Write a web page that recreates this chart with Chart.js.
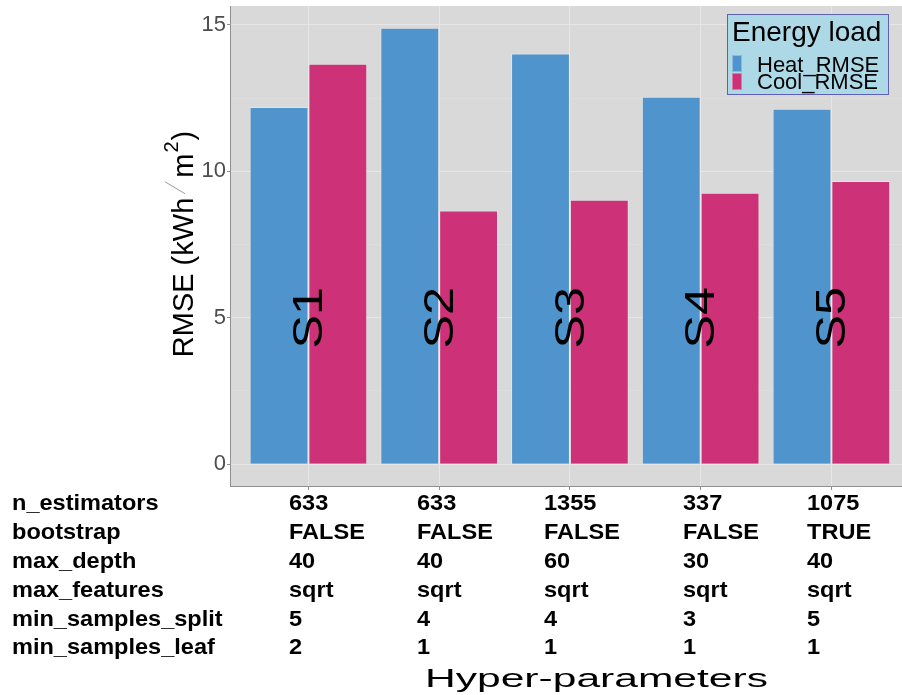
<!DOCTYPE html>
<html>
<head>
<meta charset="utf-8">
<script src="https://cdn.jsdelivr.net/npm/chart.js@4.4.0/dist/chart.umd.min.js"></script>
<style>
  html, body { margin: 0; padding: 0; background: #ffffff; }
  #wrap { width: 902px; height: 695px; position: relative; }
</style>
</head>
<body>
<div id="wrap"><canvas id="chart" width="902" height="695"></canvas></div>
<script>
// ---- data ----
const scenarios = ['S1', 'S2', 'S3', 'S4', 'S5'];
const heatRMSE = [12.20, 14.90, 14.02, 12.55, 12.14];
const coolRMSE = [13.67, 8.66, 9.03, 9.27, 9.67];
const seriesNames = ['Heat_RMSE', 'Cool_RMSE'];
const yTicks = [0, 5, 10, 15];
const yMinorTicks = [2.5, 7.5, 12.5];

// hyper-parameter table shown under the x axis
const paramNames = ['n_estimators', 'bootstrap', 'max_depth', 'max_features', 'min_samples_split', 'min_samples_leaf'];
const nEstimators = ['633', '633', '1355', '337', '1075'];
const bootstrap = ['FALSE', 'FALSE', 'FALSE', 'FALSE', 'TRUE'];
const maxDepth = ['40', '40', '60', '30', '40'];
const maxFeatures = ['sqrt', 'sqrt', 'sqrt', 'sqrt', 'sqrt'];
const minSamplesSplit = ['5', '4', '4', '3', '5'];
const minSamplesLeaf = ['2', '1', '1', '1', '1'];

// ---- styling ----
const HEAT = '#4F94CD';
const COOL = '#CD3278';
const PANEL = '#D9D9D9';
const GRID_MAJOR = '#E6E6E6';
const GRID_MINOR = '#DDDDDD';
const AXIS_GREY = '#8F8F8F';
const FONT = '"Liberation Sans", Arial, Helvetica, sans-serif';

const tableRows = [nEstimators, bootstrap, maxDepth, maxFeatures, minSamplesSplit, minSamplesLeaf];
const tableRowY = [510, 539, 568, 597, 626, 654];
const tableColX = [289, 417, 544, 683, 807];

function stretchedText(ctx, text, x, y, font, sx, align) {
  ctx.save();
  ctx.font = font;
  ctx.translate(x, y);
  ctx.scale(sx, 1);
  ctx.textAlign = align || 'left';
  ctx.fillText(text, 0, 0);
  ctx.restore();
}

const panelPlugin = {
  id: 'panel',
  beforeDraw(chart) {
    const { ctx, chartArea: a } = chart;
    ctx.save();
    ctx.fillStyle = PANEL;
    ctx.fillRect(a.left, a.top, a.right - a.left, a.bottom - a.top);
    ctx.restore();
  },
  afterDatasetsDraw(chart) {
    // scenario tags written vertically across each pair of bars
    const { ctx } = chart;
    const xs = chart.scales.x, ys = chart.scales.y;
    ctx.save();
    ctx.fillStyle = '#000000';
    scenarios.forEach((s, i) => {
      const cx = xs.getPixelForValue(i + 1) + 2;
      const cy = ys.getPixelForValue(5);
      ctx.save();
      ctx.translate(cx, cy);
      ctx.rotate(-Math.PI / 2);
      ctx.scale(1.2, 1);
      ctx.font = '42px ' + FONT;
      ctx.textAlign = 'center';
      ctx.textBaseline = 'middle';
      ctx.fillText(s, 0, 0);
      ctx.restore();
    });
    ctx.restore();
  },
  afterDraw(chart) {
    const { ctx } = chart;
    ctx.save();

    // legend box
    const lx = 727, ly = 14, lw = 161, lh = 80;
    ctx.fillStyle = '#ADD8E6';
    ctx.fillRect(lx, ly, lw, lh);
    ctx.strokeStyle = '#5F5FB4';
    ctx.lineWidth = 1;
    ctx.strokeRect(lx + 0.5, ly + 0.5, lw, lh);
    ctx.fillStyle = '#000000';
    ctx.textBaseline = 'alphabetic';
    ctx.font = '28px ' + FONT;
    ctx.textAlign = 'left';
    ctx.fillText('Energy load', 732, 41);
    const keyColors = [HEAT, COOL];
    const keyTop = [55, 73];
    const labelY = [72, 89];
    seriesNames.forEach((n, i) => {
      ctx.fillStyle = keyColors[i];
      ctx.fillRect(732, keyTop[i], 10, 17);
      ctx.strokeStyle = 'rgba(255,255,255,0.35)';
      ctx.strokeRect(732.5, keyTop[i] + 0.5, 9, 16);
      ctx.fillStyle = '#000000';
      ctx.font = '22px ' + FONT;
      ctx.fillText(n, 757, labelY[i]);
    });

    // hyper-parameter table
    ctx.fillStyle = '#000000';
    const bold = 'bold 22px ' + FONT;
    paramNames.forEach((p, r) => {
      stretchedText(ctx, p, 12, tableRowY[r], bold, 1.07);
      tableRows[r].forEach((v, c) => {
        stretchedText(ctx, v, tableColX[c], tableRowY[r], bold, 1.07);
      });
    });

    // x axis title
    const xtFont = '25px ' + FONT;
    ctx.font = xtFont;
    const tw = ctx.measureText('Hyper-parameters').width;
    stretchedText(ctx, 'Hyper-parameters', 596.5, 687, xtFont, 343 / tw, 'center');

    // y axis title: RMSE (kWh / m^2)
    ctx.save();
    ctx.translate(193, 0);
    ctx.rotate(-Math.PI / 2);
    const big = '29px ' + FONT, sup = '20px ' + FONT;
    ctx.font = big;
    const w1 = ctx.measureText('RMSE (kWh').width;
    const wm = ctx.measureText('m').width;
    const wp = ctx.measureText(')').width;
    ctx.font = sup;
    const w2 = ctx.measureText('2').width;
    const slashW = 20;
    const total = w1 + slashW + wm + w2 + 2 + wp;
    let u = -(244 + total / 2);
    ctx.fillStyle = '#000000';
    ctx.textAlign = 'left';
    ctx.font = big;
    ctx.fillText('RMSE (kWh', u, 0);
    u += w1;
    ctx.strokeStyle = '#9A9A9A';
    ctx.lineWidth = 1;
    ctx.beginPath();
    ctx.moveTo(u + 4, -8);
    ctx.lineTo(u + slashW - 4, -28);
    ctx.stroke();
    u += slashW;
    ctx.fillText('m', u, 0);
    u += wm;
    ctx.font = sup;
    ctx.fillText('2', u + 1, -15);
    u += w2 + 2;
    ctx.font = big;
    ctx.fillText(')', u, 0);
    ctx.restore();

    ctx.restore();
  }
};

const ctx = document.getElementById('chart').getContext('2d');
new Chart(ctx, {
  type: 'bar',
  data: {
    datasets: [
      {
        label: seriesNames[0],
        data: scenarios.map((s, i) => ({ x: i + 1, y: heatRMSE[i] })),
        backgroundColor: HEAT,
        borderColor: 'rgba(255,255,255,0.3)',
        borderWidth: 1
      },
      {
        label: seriesNames[1],
        data: scenarios.map((s, i) => ({ x: i + 1, y: coolRMSE[i] })),
        backgroundColor: COOL,
        borderColor: 'rgba(255,255,255,0.3)',
        borderWidth: 1
      }
    ]
  },
  options: {
    responsive: false,
    animation: false,
    devicePixelRatio: 1,
    categoryPercentage: 0.9,
    barPercentage: 1.0,
    layout: { autoPadding: false, padding: { left: 0, right: 0, top: 6, bottom: 0 } },
    plugins: {
      legend: { display: false },
      tooltip: { enabled: false }
    },
    scales: {
      x: {
        type: 'linear',
        min: 0.4,
        max: 5.54,
        offset: false,
        afterBuildTicks(scale) {
          scale.ticks = scenarios.map((s, i) => ({ value: i + 1 }));
        },
        afterFit(scale) {
          scale.height = 209;
          scale.paddingLeft = 0;
          scale.paddingRight = 0;
        },
        ticks: { callback: () => '', font: { size: 1 } },
        grid: {
          offset: false,
          color: GRID_MAJOR,
          lineWidth: 1,
          drawTicks: true,
          tickLength: 4,
          tickColor: AXIS_GREY
        },
        border: { display: true, color: AXIS_GREY, width: 1 }
      },
      y: {
        type: 'linear',
        min: -0.745,
        max: 15.645,
        afterBuildTicks(scale) {
          scale.ticks = yTicks.concat(yMinorTicks).sort((a, b) => a - b).map(v => ({ value: v }));
        },
        afterFit(scale) {
          scale.width = 230;
          scale.paddingTop = 0;
          scale.paddingBottom = 0;
        },
        ticks: {
          callback: (v) => (yTicks.includes(v) ? String(v) : ''),
          color: '#4D4D4D',
          font: { family: FONT, size: 22 },
          padding: 1
        },
        grid: {
          color: (c) => (c.tick && yTicks.includes(c.tick.value) ? GRID_MAJOR : GRID_MINOR),
          tickColor: (c) => (c.tick && yTicks.includes(c.tick.value) ? AXIS_GREY : 'rgba(0,0,0,0)'),
          lineWidth: 1,
          tickLength: 3
        },
        border: { display: true, color: AXIS_GREY, width: 1 }
      }
    }
  },
  plugins: [panelPlugin]
});
</script>
</body>
</html>
